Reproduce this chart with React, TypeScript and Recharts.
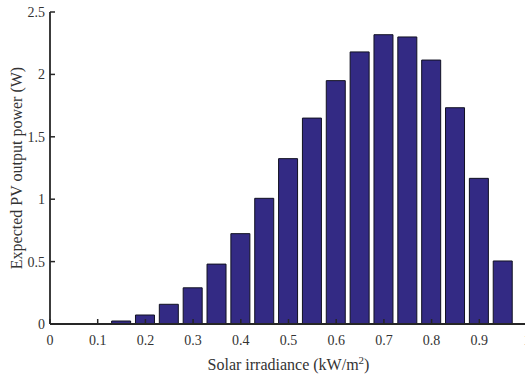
import { Bar, BarChart, Label, XAxis, YAxis } from "recharts";

const irradiance = [0.05, 0.1, 0.15, 0.2, 0.25, 0.3, 0.35, 0.4, 0.45, 0.5, 0.55, 0.6, 0.65, 0.7, 0.75, 0.8, 0.85, 0.9, 0.95];
const expectedPower = [0, 0, 0.024, 0.072, 0.158, 0.29, 0.48, 0.724, 1.007, 1.325, 1.65, 1.95, 2.18, 2.318, 2.3, 2.115, 1.733, 1.167, 0.505];
const xTicks = [0, 0.1, 0.2, 0.3, 0.4, 0.5, 0.6, 0.7, 0.8, 0.9, 1];
const yTicks = [0, 0.5, 1, 1.5, 2, 2.5];

const data = irradiance.map((x, i) => ({ x, power: expectedPower[i] }));

const FONT = '"Liberation Serif", "Times New Roman", serif';
const AXIS = "#262626";
const TEXT = "#333333";
const TICK_LEN = 5;
const axisLine = { stroke: AXIS, strokeWidth: 1.8 };

function BottomTick({ x, y, payload }: any) {
  return (
    <g>
      <line x1={x} x2={x} y1={y} y2={y - TICK_LEN} stroke={AXIS} strokeWidth={1.5} />
      <text x={x} y={y + 11} dy="0.71em" textAnchor="middle" fontFamily={FONT} fontSize={14} fill={TEXT}>
        {payload.value}
      </text>
    </g>
  );
}

function TopTick({ x, y }: any) {
  return <line x1={x} x2={x} y1={y} y2={y + TICK_LEN} stroke={AXIS} strokeWidth={1.5} />;
}

function LeftTick({ x, y, payload }: any) {
  return (
    <g>
      <line x1={x} x2={x + TICK_LEN} y1={y} y2={y} stroke={AXIS} strokeWidth={1.5} />
      <text x={x - 5} y={y} dy="0.355em" textAnchor="end" fontFamily={FONT} fontSize={14} fill={TEXT}>
        {payload.value}
      </text>
    </g>
  );
}

function RightTick({ x, y }: any) {
  return <line x1={x} x2={x - TICK_LEN} y1={y} y2={y} stroke={AXIS} strokeWidth={1.5} />;
}

function XTitle({ viewBox }: any) {
  const cx = viewBox.x + viewBox.width / 2;
  return (
    <text x={cx} y={viewBox.y + 46} textAnchor="middle" fontFamily={FONT} fontSize={16} fill={TEXT}>
      Solar irradiance (kW/m
      <tspan dy={-6} fontSize={11}>2</tspan>
      <tspan dy={6}>)</tspan>
    </text>
  );
}

function YTitle({ viewBox }: any) {
  const x = viewBox.x + 16;
  const y = viewBox.y + viewBox.height / 2;
  return (
    <text
      x={x}
      y={y}
      transform={`rotate(-90 ${x} ${y})`}
      textAnchor="middle"
      dominantBaseline="central"
      fontFamily={FONT}
      fontSize={16}
      fill={TEXT}
    >
      Expected PV output power (W)
    </text>
  );
}

export default function App() {
  return (
    <div style={{ position: "absolute", left: 0, top: 0, width: 525, height: 376, background: "#fff", overflow: "hidden" }}>
      <BarChart width={530} height={376} data={data} margin={{ top: 12, right: 3, bottom: 0, left: 0 }}>
        <XAxis
          xAxisId="main"
          dataKey="x"
          type="number"
          domain={[0, 1]}
          ticks={xTicks}
          allowDataOverflow
          interval={0}
          height={52}
          tickSize={0}
          tickMargin={0}
          tickLine={false}
          axisLine={axisLine}
          tick={<BottomTick />}
        >
          <Label content={<XTitle />} />
        </XAxis>
        <XAxis
          xAxisId="top"
          orientation="top"
          dataKey="x"
          type="number"
          domain={[0, 1]}
          ticks={xTicks}
          allowDataOverflow
          interval={0}
          height={0}
          tickSize={0}
          tickMargin={0}
          tickLine={false}
          axisLine={axisLine}
          tick={<TopTick />}
        />
        <YAxis
          yAxisId="main"
          type="number"
          domain={[0, 2.5]}
          ticks={yTicks}
          allowDataOverflow
          interval={0}
          width={50}
          tickSize={0}
          tickMargin={0}
          tickLine={false}
          axisLine={axisLine}
          tick={<LeftTick />}
        >
          <Label content={<YTitle />} />
        </YAxis>
        <YAxis
          yAxisId="right"
          orientation="right"
          type="number"
          domain={[0, 2.5]}
          ticks={yTicks}
          allowDataOverflow
          interval={0}
          width={0}
          tickSize={0}
          tickMargin={0}
          tickLine={false}
          axisLine={axisLine}
          tick={<RightTick />}
        />
        <Bar
          xAxisId="main"
          yAxisId="main"
          dataKey="power"
          barSize={19}
          fill="#332a84"
          stroke="#111122"
          strokeWidth={1}
          isAnimationActive={false}
        />
      </BarChart>
    </div>
  );
}
